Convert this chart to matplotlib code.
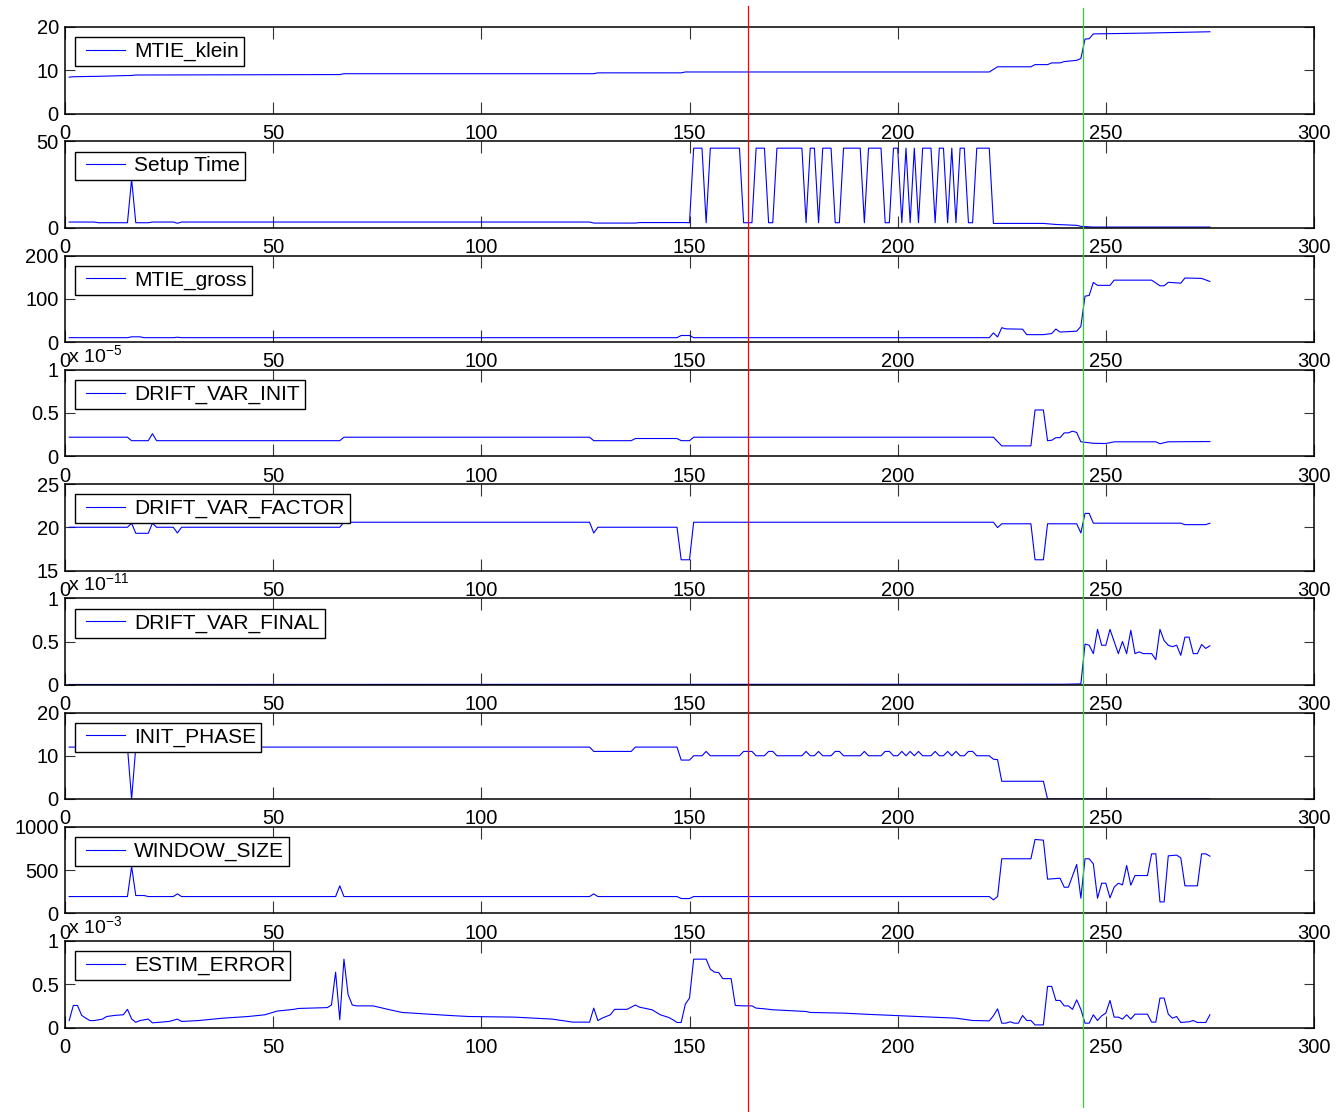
import numpy as np
import matplotlib
matplotlib.use('Agg')
from matplotlib import pyplot as plt
from matplotlib.ticker import FuncFormatter

plt.rcParams['font.family'] = ['Liberation Sans', 'DejaVu Sans']
plt.rcParams['mathtext.fontset'] = 'custom'
plt.rcParams['mathtext.rm'] = 'Liberation Sans'
plt.rcParams['mathtext.it'] = 'Liberation Sans:italic'

# ---- data (x = sample index) ----
# square wave of the setup / init phase between samples 150 and 222
phase_pattern = ("L HHH L HHHHHHHH LLL HHH LL HHHHHHH L HH L HHH LL HHHHH L HHHH "
                 "LL HH L H L H L HHH L HH L H L HH LL HHHH").replace(" ", "")
wave_x = list(range(150, 223))

mtie_klein_x = [1, 2, 8, 16, 17, 66, 67, 127, 128, 148, 149, 222, 224, 232, 233, 236,
                237, 239, 240, 243, 244, 245, 246, 247, 260, 275]
mtie_klein_y = [8.4, 8.5, 8.6, 8.8, 8.9, 9.0, 9.2, 9.2, 9.4, 9.4, 9.6, 9.6, 10.8, 10.8,
                11.3, 11.3, 11.7, 11.7, 12.0, 12.3, 12.7, 17.2, 17.3, 18.4, 18.6, 18.9]

setup_x_pre = [1, 7, 8, 15, 16, 17, 20, 21, 26, 27, 28, 126, 127, 137, 138, 149]
setup_y_pre = [3.3, 3.3, 2.9, 2.9, 28, 2.9, 2.9, 3.3, 3.3, 2.6, 3.3, 3.3, 2.7, 2.7, 3.0, 3.0]
setup_high, setup_low = 46, 2.9
setup_x_post = [223, 235, 238, 243, 244, 247, 275]
setup_y_post = [2.5, 2.5, 1.9, 1.4, 0.8, 0.4, 0.4]

mtie_gross_x = [1, 15, 16, 18, 19, 26, 27, 28, 147, 148, 150, 151, 222, 223, 224, 225,
                226, 230, 231, 235, 237, 238, 239, 243, 244, 245, 246, 247, 248, 251,
                252, 261, 263, 264, 265, 268, 269, 273, 275]
mtie_gross_y = [10, 10, 12, 12, 10, 10, 11, 10, 10, 15, 15, 10, 10, 21, 11.7, 33,
                30.4, 29.6, 17, 17, 19.5, 30, 23, 25, 36, 106, 107.6, 137.7, 131, 131,
                143, 143, 130, 130, 138, 136, 148, 147, 140]

drift_init_x = [1, 15, 16, 20, 21, 22, 66, 67, 126, 127, 136, 137, 147, 148, 150, 151,
                223, 225, 232, 233, 235, 236, 237, 238, 239, 240, 241, 242, 243, 244,
                247, 250, 252, 262, 263, 265, 275]
drift_init_y = [0.22, 0.22, 0.18, 0.18, 0.26, 0.18, 0.18, 0.22, 0.22, 0.18, 0.18, 0.205,
                0.205, 0.18, 0.18, 0.22, 0.22, 0.12, 0.12, 0.535, 0.535, 0.18, 0.185,
                0.215, 0.215, 0.27, 0.27, 0.29, 0.275, 0.167, 0.15, 0.147, 0.167,
                0.167, 0.145, 0.167, 0.17]  # x 1e-5

drift_factor_x = [1, 15, 16, 17, 20, 21, 22, 26, 27, 28, 66, 67, 126, 127, 128, 147,
                  148, 150, 151, 223, 224, 225, 232, 233, 235, 236, 243, 244, 245, 246,
                  247, 268, 269, 274, 275]
drift_factor_y = [20, 20, 20.47, 19.3, 19.3, 20.47, 20, 20, 19.34, 20, 20, 20.58, 20.58,
                  19.34, 20, 20, 16.24, 16.24, 20.58, 20.58, 19.96, 20.4, 20.4, 16.24,
                  16.24, 20.4, 20.4, 19.34, 21.6, 21.6, 20.47, 20.47, 20.3, 20.3, 20.47]

drift_final_x = [1, 240, 244, 245, 246, 247, 248, 249, 250, 251, 253, 254, 255, 256,
                 257, 258, 259, 261, 262, 263, 264, 265, 266, 267, 268, 269, 270, 271,
                 272, 273, 274, 275]
drift_final_y = [0.003, 0.006, 0.01, 0.47, 0.457, 0.36, 0.64, 0.457, 0.457, 0.64, 0.36,
                 0.5, 0.36, 0.63, 0.36, 0.38, 0.36, 0.36, 0.29, 0.64, 0.51, 0.457, 0.44,
                 0.457, 0.34, 0.55, 0.55, 0.36, 0.36, 0.465, 0.42, 0.45]  # x 1e-11

init_x_pre = [1, 15, 16, 17, 126, 127, 136, 137, 147, 148, 150]
init_y_pre = [12, 12, 0, 12, 12, 11, 11, 12, 12, 9, 9]
init_high, init_low = 10, 11
init_x_post = [223, 224, 225, 235, 236, 275]
init_y_post = [9.2, 9.1, 4.1, 4.1, 0, 0]

window_x = [1, 15, 16, 17, 19, 20, 26, 27, 28, 65, 66, 67, 126, 127, 128, 147, 148, 150,
            151, 222, 223, 224, 225, 232, 233, 235, 236, 239, 240, 241, 243, 244, 245,
            246, 247, 248, 249, 250, 251, 252, 253, 254, 255, 256, 257, 260, 261, 262,
            263, 264, 265, 267, 268, 269, 272, 273, 274, 275]
window_y = [193, 193, 540, 205, 205, 193, 193, 224, 193, 193, 317, 193, 193, 224, 193,
            193, 170, 170, 193, 193, 155, 193, 630, 630, 853, 845, 394, 405, 301, 301,
            564, 174, 630, 630, 571, 174, 347, 347, 178, 301, 347, 328, 552, 324, 436,
            436, 687, 687, 131, 131, 664, 672, 641, 317, 317, 687, 687, 660]

estim_x = [1, 2, 3, 4, 5, 6, 7, 9, 10, 12, 14, 15, 16, 17, 18, 20, 21, 25, 27, 28, 32,
           38, 44, 48, 51, 55, 56, 63, 64, 65, 66, 67, 68, 69, 70, 74, 78, 81, 86, 92,
           97, 108, 117, 122, 126, 127, 128, 129, 131, 132, 135, 137, 138, 141, 143,
           145, 146, 147, 148, 149, 150, 151, 154, 155, 156, 157, 158, 160, 161, 163,
           165, 166, 168, 170, 178, 179, 187, 192, 199, 204, 214, 218, 222, 223, 224,
           225, 226, 227, 228, 229, 230, 231, 232, 233, 235, 236, 237, 238, 239, 240,
           241, 242, 243, 244, 245, 246, 247, 248, 249, 250, 251, 252, 253, 254, 255,
           256, 257, 260, 261, 262, 263, 264, 265, 266, 267, 268, 270, 271, 272, 274, 275]
estim_y = [0.08, 0.255, 0.255, 0.14, 0.108, 0.08, 0.08, 0.097, 0.127, 0.14, 0.147, 0.21,
           0.1, 0.06, 0.08, 0.097, 0.054, 0.07, 0.097, 0.07, 0.08, 0.108, 0.127, 0.147,
           0.19, 0.21, 0.22, 0.23, 0.26, 0.64, 0.09, 0.79, 0.38, 0.26, 0.25, 0.25, 0.205,
           0.174, 0.158, 0.14, 0.127, 0.12, 0.097, 0.062, 0.062, 0.224, 0.08, 0.108,
           0.147, 0.21, 0.21, 0.26, 0.235, 0.205, 0.147, 0.116, 0.09, 0.058, 0.058,
           0.27, 0.34, 0.79, 0.79, 0.675, 0.64, 0.635, 0.565, 0.565, 0.255, 0.25, 0.25,
           0.224, 0.216, 0.205, 0.185, 0.174, 0.166, 0.154, 0.139, 0.127, 0.108, 0.081,
           0.077, 0.135, 0.216, 0.05, 0.05, 0.066, 0.05, 0.05, 0.139, 0.081, 0.081, 0.03,
           0.03, 0.475, 0.475, 0.313, 0.313, 0.25, 0.25, 0.21, 0.32, 0.21, 0.05, 0.05,
           0.147, 0.081, 0.135, 0.166, 0.313, 0.12, 0.12, 0.097, 0.147, 0.097, 0.154,
           0.154, 0.062, 0.062, 0.34, 0.34, 0.154, 0.108, 0.127, 0.058, 0.066, 0.081,
           0.058, 0.058, 0.147]  # x 1e-3

marker_lines = [164.0, 244.4]  # red, green

# assemble the two square-wave series
setup_x = setup_x_pre + wave_x + setup_x_post
setup_y = (setup_y_pre + [setup_high if c == 'H' else setup_low for c in phase_pattern]
           + setup_y_post)
init_x = init_x_pre + wave_x[1:] + init_x_post
init_y = init_y_pre + [init_high if c == 'H' else init_low for c in phase_pattern[1:]] + init_y_post

# name, x, y, scale, ylim (scaled units), yticks, exponent label
panels = [
    ('MTIE_klein', mtie_klein_x, mtie_klein_y, 1, (0, 20), [0, 10, 20], None),
    ('Setup Time', setup_x, setup_y, 1, (0, 50), [0, 50], None),
    ('MTIE_gross', mtie_gross_x, mtie_gross_y, 1, (0, 200), [0, 100, 200], None),
    ('DRIFT_VAR_INIT', drift_init_x, drift_init_y, 1e-5, (0, 1), [0, 0.5, 1], -5),
    ('DRIFT_VAR_FACTOR', drift_factor_x, drift_factor_y, 1, (15, 25), [15, 20, 25], None),
    ('DRIFT_VAR_FINAL', drift_final_x, drift_final_y, 1e-11, (0, 1), [0, 0.5, 1], -11),
    ('INIT_PHASE', init_x, init_y, 1, (0, 20), [0, 10, 20], None),
    ('WINDOW_SIZE', window_x, window_y, 1, (0, 1000), [0, 500, 1000], None),
    ('ESTIM_ERROR', estim_x, estim_y, 1e-3, (0, 1), [0, 0.5, 1], -3),
]

W, H = 1339, 1112
fig = plt.figure(figsize=(W / 100, H / 100), dpi=100)

left, width = 65 / W, 1249 / W
top0, pitch, ah = 27, 114.25, 86.5

for i, (name, xs, ys, scale, ylim, yt, expo) in enumerate(panels):
    top = top0 + i * pitch
    ax = fig.add_axes([left, 1 - (top + ah) / H, width, ah / H])
    ax.plot(xs, np.array(ys) * scale, color='#0000ff', lw=0.8, label=name)
    ax.set_xlim(0, 300)
    ax.set_ylim(ylim[0] * scale, ylim[1] * scale)
    ax.set_xticks(range(0, 301, 50))
    ax.set_yticks([t * scale for t in yt])
    ax.yaxis.set_major_formatter(FuncFormatter(lambda v, p, s=scale: f'{v / s:g}'))
    ax.tick_params(direction='in', top=True, right=True, color='#333333',
                   width=0.8, labelsize=14.5)
    ax.tick_params(axis='x', length=8.7, pad=7.5)
    ax.tick_params(axis='y', length=7.5, pad=4.5)
    for sp in ax.spines.values():
        sp.set_linewidth(1.1)
    leg = ax.legend(loc='upper left', fontsize=15, fancybox=False, edgecolor='black',
                    framealpha=1, borderpad=0.23, numpoints=2, handlelength=2.45,
                    handletextpad=0.15, borderaxespad=0.5)
    leg.get_frame().set_linewidth(1.0)
    for h in leg.legend_handles:
        h.set_linewidth(0.8)
    if expo is not None:
        ax.text(0.0025, 1.09, 'x 10$^{%d}$' % expo, transform=ax.transAxes,
                fontsize=14, va='baseline', ha='left')

# vertical marker lines across the whole figure
ov = fig.add_axes([left, 0, width, 1])
ov.set_xlim(0, 300)
ov.set_ylim(0, 1)
ov.axis('off')
ov.patch.set_alpha(0)
ov.axvline(marker_lines[0], ymin=0.001, ymax=0.9946, color='#ff0000', lw=0.9)
ov.axvline(marker_lines[1], ymin=0.0045, ymax=0.9928, color='#33cc33', lw=0.9)

fig.savefig('out.png', dpi=100)
